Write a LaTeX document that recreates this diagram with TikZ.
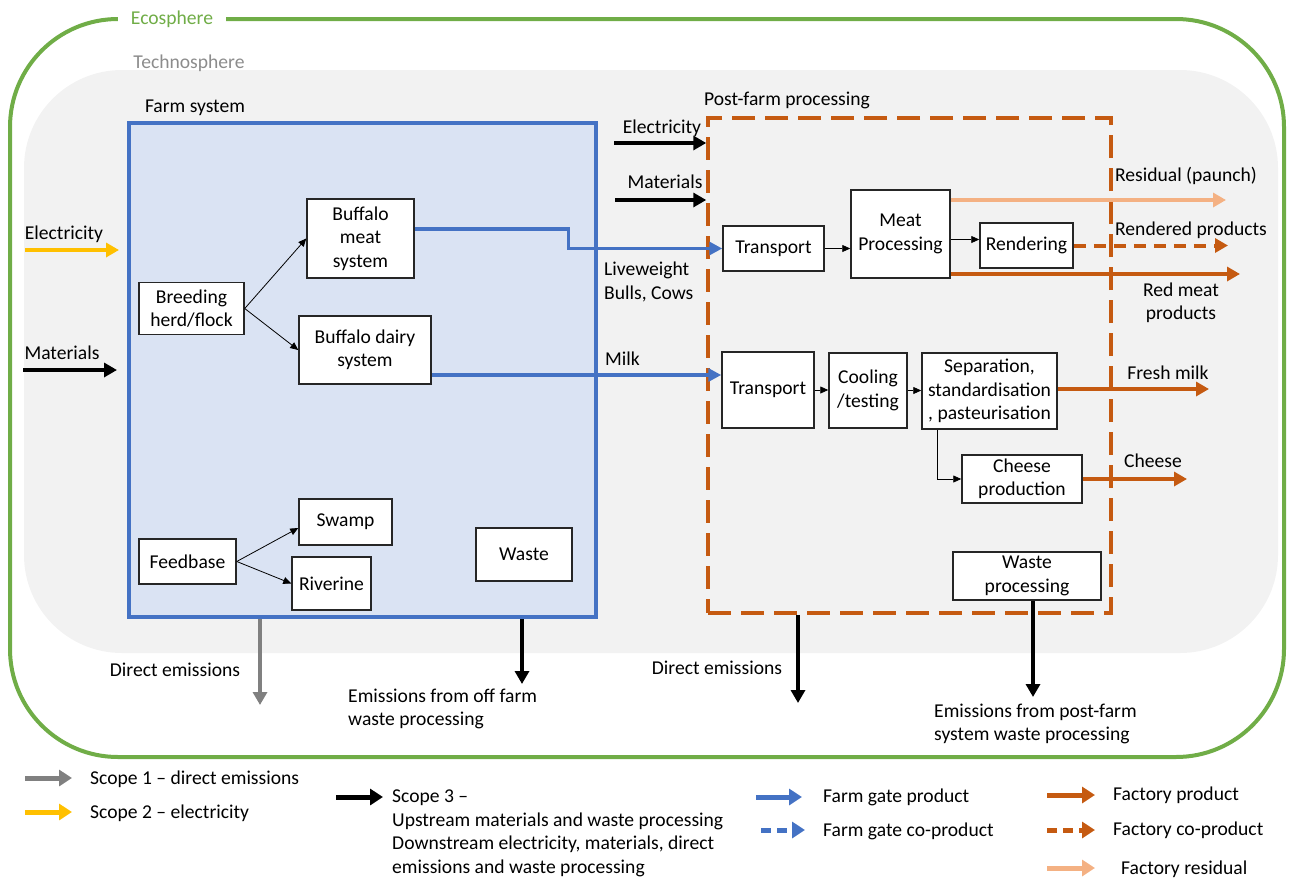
\documentclass[tikz,border=0pt]{standalone}
\usepackage{fontspec}
\setmainfont{Carlito}
\usetikzlibrary{arrows.meta,calc}
\definecolor{eco}{HTML}{70AD47}
\definecolor{fblue}{HTML}{4472C4}
\definecolor{ffill}{HTML}{DAE3F3}
\definecolor{forange}{HTML}{C55A11}
\definecolor{lorange}{HTML}{F4B183}
\definecolor{yel}{HTML}{FFC000}
\definecolor{techfill}{HTML}{F2F2F2}
\definecolor{techtext}{HTML}{8C8C8C}
\definecolor{scopegray}{HTML}{808080}
\begin{document}
\begin{tikzpicture}[x=1pt,y=-1pt,
  every node/.style={font=\fontsize{19.6}{23.5}\selectfont},
  box/.style={draw=black!85, line width=1.5pt, fill=white, align=center, inner sep=1pt},
  thinarrow/.style={draw=black, line width=0.8pt, -{Triangle[length=8pt,width=7pt]}},
  bigarrow/.style={line width=4pt, -{Triangle[length=13pt,width=14pt]}},
  flowarrow/.style={line width=3.2pt, -{Triangle[length=13pt,width=13pt]}},
  legarrow/.style={line width=5pt, -{Triangle[length=13pt,width=16pt]}},
  lbl/.style={inner sep=0pt, align=left},
]
\useasboundingbox (0,0) rectangle (1290,878);

% Ecosphere
\draw[eco, line width=4pt, rounded corners=108pt] (10,19) rectangle (1284,757);
\node[fill=white, text=eco, inner xsep=13pt, inner ysep=2pt] (ecolbl) at (172,19) {Ecosphere};

% Technosphere
\fill[techfill, rounded corners=98pt] (24,70) rectangle (1278,653);
\node[text=techtext, inner sep=0pt] (techlbl) at (189,63) {Technosphere};

% Farm system box
\node[draw=fblue, line width=3.5pt, fill=ffill, minimum width=467pt, minimum height=494pt, inner sep=0pt] (farm) at (362.5,370) {};
\node[inner sep=0pt] (farmlbl) at (195,108) {Farm system};

% Post-farm box
\node[draw=forange, line width=3.5pt, dash pattern=on 23pt off 10pt, minimum width=403pt, minimum height=495pt, inner sep=0pt] (pf) at (909.5,365.5) {};
\node[inner sep=0pt] (pflbl) at (787,100) {Post-farm processing};

% Farm nodes
\node[box, minimum width=105pt, minimum height=52pt] (br) at (191.5,308.5) {Breeding\\herd/flock};
\node[box, minimum width=107pt, minimum height=79pt] (bms) at (360.5,238.5) {Buffalo\\meat\\system};
\node[box, minimum width=132pt, minimum height=68pt] (bds) at (365,350) {Buffalo dairy\\system};
\node[box, minimum width=97pt, minimum height=45pt] (fb) at (187.5,561.5) {Feedbase};
\node[box, minimum width=93pt, minimum height=46pt] (sw) at (345.5,522) {Swamp};
\node[box, minimum width=79pt, minimum height=53pt] (rv) at (331.5,583.5) {Riverine};
\node[box, minimum width=96pt, minimum height=53pt] (waste) at (524,554.5) {Waste};

% Post-farm nodes
\node[box, minimum width=101pt, minimum height=45pt] (tr1) at (773.5,248.5) {Transport};
\node[box, minimum width=99pt, minimum height=88pt] (mp) at (900.5,234) {Meat\\Processing};
\node[box, minimum width=93pt, minimum height=45pt] (rend) at (1026.5,245.5) {Rendering};
\node[box, minimum width=92pt, minimum height=76pt] (tr2) at (768,390) {Transport};
\node[box, minimum width=78pt, minimum height=75pt] (cool) at (868,390.5) {Cooling\\/testing};
\node[box, minimum width=135pt, minimum height=76pt] (sep) at (989.5,391) {Separation,\\standardisation\\, pasteurisation};
\node[box, minimum width=120pt, minimum height=48pt] (cheese) at (1022,479) {Cheese\\production};
\node[box, minimum width=148pt, minimum height=48pt] (wp) at (1027,576) {Waste\\processing};

% Thin internal arrows
\draw[thinarrow] (br.east) -- (bms.west);
\draw[thinarrow] (br.east) -- (bds.west);
\draw[thinarrow] (fb.east) -- ([yshift=-6pt]sw.west);
\draw[thinarrow] (fb.east) -- (rv.west);
\draw[thinarrow] (tr1.east) -- (tr1.east -| mp.west);
\draw[thinarrow] ([yshift=6pt]rend.west -| mp.east) -- ([yshift=6pt]rend.west);
\draw[thinarrow] (tr2.east) -- (tr2.east -| cool.west);
\draw[thinarrow] (cool.east) -- (cool.east -| sep.west);
\draw[thinarrow] ([xshift=16pt]sep.south west) |- (cheese.west);

% Inputs
\coordinate (elA) at (25,250); \coordinate (elB) at (119,250);
\draw[bigarrow, yel, line width=3.5pt] (elA) -- (elB);
\node[lbl] (ellbl) at (64,234) {Electricity};
\coordinate (maA) at (23,370); \coordinate (maB) at (117,370);
\draw[bigarrow, black, line width=3.5pt] (maA) -- (maB);
\node[lbl] (malbl) at (62,353) {Materials};

\coordinate (epA) at (614,143);
\draw[bigarrow, black, line width=3.5pt] (epA) -- (epA -| pf.west);
\node[lbl] (eplbl) at (662,128) {Electricity};
\coordinate (mpA) at (615,200);
\draw[bigarrow, black, line width=3.5pt] (mpA) -- (mpA -| pf.west);
\node[lbl] (mplbl) at (665,182) {Materials};

% Farm gate flows
\draw[flowarrow, fblue] ([yshift=9.5pt]bms.east) -- ++(154,0) |- (tr1.west);
\node[lbl, anchor=west] (lwlbl) at (604,282) {Liveweight\\Bulls, Cows};
\draw[flowarrow, fblue] ([yshift=-25pt]bds.east) -- ([yshift=15pt]tr2.west);
\node[lbl, anchor=west] (milklbl) at (605,359) {Milk};

% Factory outputs
\coordinate (resE) at (1226,200);
\draw[bigarrow, lorange] ([yshift=34pt]mp.east) -- (resE);
\node[lbl] (reslbl) at (1186,176) {Residual (paunch)};
\coordinate (renE) at (1228,245.5);
\draw[bigarrow, forange, dash pattern=on 12pt off 8pt] (rend.east) -- (renE);
\node[lbl] (renlbl) at (1191,230) {Rendered products};
\coordinate (rmE) at (1240,274);
\draw[bigarrow, forange] ([yshift=-40pt]mp.east) -- (rmE);
\node[align=center, inner sep=0pt] (rmlbl) at (1181,303) {Red meat\\products};
\coordinate (fmE) at (1209,389);
\draw[bigarrow, forange] (sep.east |- fmE) -- (fmE);
\node[lbl] (fmlbl) at (1168,373) {Fresh milk};
\coordinate (chE) at (1187,479);
\draw[bigarrow, forange] (cheese.east) -- (chE);
\node[lbl] (chlbl) at (1153,461) {Cheese};

% Emissions
\coordinate (de1) at (260,705);
\draw[bigarrow, scopegray] (farm.south -| de1) -- (de1);
\node[lbl] (de1lbl) at (175,670) {Direct emissions};
\coordinate (we1) at (522,684);
\draw[bigarrow, black] (farm.south -| we1) -- (we1);
\node[lbl, anchor=west] (we1lbl) at (348,709) {Emissions from off farm\\waste processing};
\coordinate (de2) at (798,703);
\draw[bigarrow, black] (pf.south -| de2) -- (de2);
\node[lbl] (de2lbl) at (717,668) {Direct emissions};
\coordinate (we2) at (1033,697);
\draw[bigarrow, black] (wp.south -| we2) -- (we2);
\node[lbl, anchor=west] (we2lbl) at (934,724) {Emissions from post-farm\\system waste processing};

% Legend
\coordinate (l1a) at (25,778); \coordinate (l1b) at (72,778);
\draw[legarrow, scopegray] (l1a) -- (l1b);
\node[lbl, anchor=west] (l1t) at (90,779) {Scope 1 – direct emissions};
\coordinate (l2a) at (25,812); \coordinate (l2b) at (72,812);
\draw[legarrow, yel] (l2a) -- (l2b);
\node[lbl, anchor=west] (l2t) at (90,813) {Scope 2 – electricity};
\coordinate (l3a) at (336,797); \coordinate (l3b) at (383,797);
\draw[legarrow, black] (l3a) -- (l3b);
\node[lbl, anchor=north west] (l3t) at (392,790) {Scope 3 –\\Upstream materials and waste processing\\Downstream electricity, materials, direct\\emissions and waste processing};
\coordinate (l4a) at (756,797); \coordinate (l4b) at (802,797);
\draw[legarrow, fblue] (l4a) -- (l4b);
\node[lbl, anchor=west] (l4t) at (823,797) {Farm gate product};
\coordinate (l5a) at (761,830); \coordinate (l5b) at (805,830);
\draw[legarrow, fblue, dash pattern=on 10pt off 6pt] (l5a) -- (l5b);
\node[lbl, anchor=west] (l5t) at (823,831) {Farm gate co-product};
\coordinate (l6a) at (1047,795); \coordinate (l6b) at (1095,795);
\draw[legarrow, forange] (l6a) -- (l6b);
\node[lbl, anchor=west] (l6t) at (1113,795) {Factory product};
\coordinate (l7a) at (1047,830); \coordinate (l7b) at (1095,830);
\draw[legarrow, forange, dash pattern=on 10pt off 6pt] (l7a) -- (l7b);
\node[lbl, anchor=west] (l7t) at (1113,830) {Factory co-product};
\coordinate (l8a) at (1047,868); \coordinate (l8b) at (1095,868);
\draw[legarrow, lorange] (l8a) -- (l8b);
\node[lbl, anchor=west] (l8t) at (1121,869) {Factory residual};
\end{tikzpicture}
\end{document}
